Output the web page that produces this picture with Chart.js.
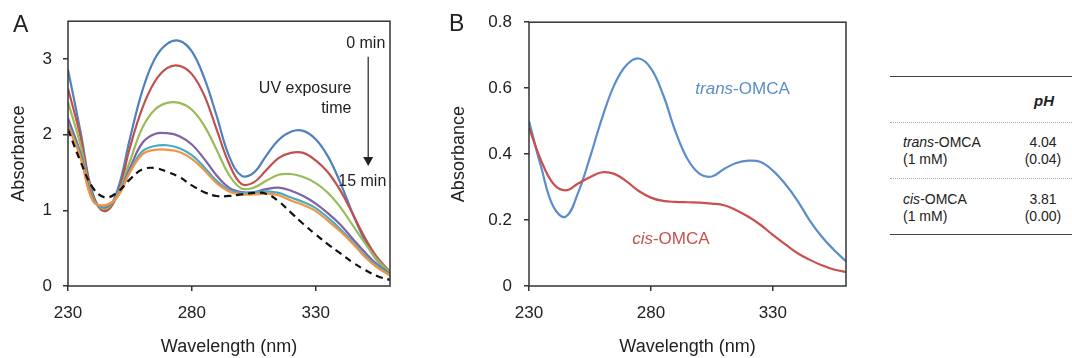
<!DOCTYPE html>
<html>
<head>
<meta charset="utf-8">
<script src="https://cdn.jsdelivr.net/npm/chart.js@4/dist/chart.umd.min.js"></script>
<style>
  body { margin: 0; background: #fff; width: 1072px; height: 358px; overflow: hidden; position: relative;
         font-family: "Liberation Sans", Arial, sans-serif; color: #222; }
  canvas { position: absolute; top: 0; }
  #chartA { left: 0; }
  #chartB { left: 440px; }
  .letter { position: absolute; font-size: 23px; line-height: 24px; }
  .rule { position: absolute; left: 890px; width: 182px; }
  .solid { height: 0; border-top: 1.5px solid #444; }
  .dotted { height: 0; border-top: 1px dotted #aaa; }
  .cell { position: absolute; font-size: 14px; line-height: 17px; }
  .num { text-align: center; width: 60px; left: 1013px; }
</style>
</head>
<body>
<canvas id="chartA" width="400" height="358"></canvas>
<canvas id="chartB" width="420" height="358"></canvas>

<div class="letter" style="left:13px; top:12px;">A</div>
<div class="letter" style="left:449px; top:11px;">B</div>

<!-- tabelka pH -->
<div class="rule solid" style="top:76px;"></div>
<div class="cell" style="left:1014px; width:60px; text-align:center; top:92px; font-weight:bold; font-style:italic; font-size:15px;">pH</div>
<div class="rule dotted" style="top:122px;"></div>
<div class="cell" style="left:903px; top:134px;"><i>trans</i>-OMCA<br>(1 mM)</div>
<div class="cell num" style="top:134px;">4.04<br>(0.04)</div>
<div class="rule dotted" style="top:178px;"></div>
<div class="cell" style="left:903px; top:191px;"><i>cis</i>-OMCA<br>(1 mM)</div>
<div class="cell num" style="top:191px;">3.81<br>(0.00)</div>
<div class="rule solid" style="top:234px;"></div>

<script>
// vlnové délky (nm)
const wavelengths = [230, 235, 240, 245, 250, 255, 260, 265, 270, 275, 280, 285, 290, 295,
                     300, 305, 310, 315, 320, 325, 330, 335, 340, 345, 350, 355, 360];

// panel A - spektra během UV expozice (0 min -> 15 min)
const uvBlue   = [2.86, 2.05, 1.22, 0.99, 1.27, 1.95, 2.58, 3.00, 3.20, 3.24, 3.10, 2.75, 2.25, 1.72,
                  1.46, 1.50, 1.72, 1.93, 2.04, 2.05, 1.94, 1.71, 1.36, 0.95, 0.59, 0.33, 0.18];
const uvRed    = [2.61, 1.98, 1.19, 0.99, 1.21, 1.83, 2.35, 2.70, 2.88, 2.91, 2.80, 2.52, 2.07, 1.62,
                  1.35, 1.37, 1.53, 1.69, 1.76, 1.76, 1.66, 1.50, 1.26, 0.95, 0.63, 0.37, 0.19];
const uvGreen  = [2.43, 1.87, 1.17, 1.02, 1.21, 1.65, 2.09, 2.33, 2.42, 2.42, 2.33, 2.12, 1.80, 1.47,
                  1.29, 1.30, 1.39, 1.47, 1.48, 1.44, 1.36, 1.23, 1.04, 0.80, 0.56, 0.34, 0.18];
const uvPurple = [2.22, 1.76, 1.15, 1.04, 1.19, 1.56, 1.89, 2.01, 2.02, 1.98, 1.87, 1.68, 1.46, 1.30,
                  1.24, 1.24, 1.28, 1.30, 1.26, 1.19, 1.09, 0.96, 0.81, 0.62, 0.44, 0.28, 0.16];
const uvCyan   = [2.15, 1.72, 1.13, 1.05, 1.19, 1.52, 1.78, 1.85, 1.86, 1.82, 1.73, 1.57, 1.39, 1.27,
                  1.23, 1.24, 1.25, 1.23, 1.17, 1.11, 1.03, 0.90, 0.75, 0.58, 0.40, 0.26, 0.15];
const uvOrange = [2.12, 1.70, 1.13, 1.07, 1.18, 1.50, 1.74, 1.80, 1.80, 1.77, 1.68, 1.53, 1.36, 1.25,
                  1.21, 1.21, 1.22, 1.20, 1.13, 1.07, 0.99, 0.86, 0.72, 0.56, 0.38, 0.24, 0.14];
const uvDashed = [2.07, 1.65, 1.30, 1.17, 1.24, 1.41, 1.54, 1.56, 1.51, 1.44, 1.33, 1.24, 1.19, 1.19,
                  1.21, 1.23, 1.22, 1.12, 0.97, 0.82, 0.68, 0.55, 0.43, 0.31, 0.21, 0.13, 0.08];

// panel B - trans / cis OMCA
const transOmca = [0.50, 0.36, 0.24, 0.21, 0.28, 0.39, 0.51, 0.61, 0.67, 0.69, 0.66, 0.58, 0.47, 0.385,
                   0.34, 0.332, 0.355, 0.373, 0.38, 0.376, 0.35, 0.31, 0.26, 0.20, 0.15, 0.11, 0.075];
const cisOmca   = [0.48, 0.38, 0.31, 0.29, 0.31, 0.33, 0.345, 0.34, 0.317, 0.288, 0.268, 0.258, 0.255, 0.254,
                   0.253, 0.25, 0.245, 0.23, 0.21, 0.185, 0.155, 0.127, 0.10, 0.08, 0.063, 0.05, 0.043];

const xTicks = [230, 280, 330];
const yTicksA = [0, 1, 2, 3];

const FONT = '"Liberation Sans", Arial, sans-serif';
const INK = "#222";

function points(values) {
  return wavelengths.map((w, i) => ({ x: w, y: values[i] }));
}

function line(values, color, dash) {
  return {
    data: points(values),
    borderColor: color,
    borderWidth: 2.2,
    borderDash: dash || [],
    pointRadius: 0,
    fill: false,
    tension: 0.4,
  };
}

// rámeček kolem plochy grafu
const frame = {
  id: "frame",
  afterDatasetsDraw(chart) {
    const a = chart.chartArea;
    const ctx = chart.ctx;
    ctx.save();
    ctx.strokeStyle = "#333";
    ctx.lineWidth = 1.5;
    ctx.strokeRect(a.left, a.top, a.right - a.left, a.bottom - a.top);
    ctx.restore();
  },
};

function axes(yMin, yMax, yTickFn, yPad, yLabelFmt) {
  return {
    x: {
      type: "linear",
      min: 230,
      max: 360,
      afterBuildTicks: (s) => { s.ticks = xTicks.map((v) => ({ value: v })); },
      afterFit: (s) => { s.height = 72; },
      border: { display: false },
      grid: { drawOnChartArea: false, drawTicks: true, tickLength: 5, color: "#333", lineWidth: 1.5 },
      ticks: { color: INK, font: { family: FONT, size: 17 }, padding: 12, maxRotation: 0 },
      title: { display: true, text: "Wavelength (nm)", color: INK, font: { family: FONT, size: 18 }, padding: 0 },
    },
    y: {
      min: yMin,
      max: yMax,
      afterBuildTicks: yTickFn,
      afterFit: (s) => { s.width = yPad; },
      border: { display: false },
      grid: { drawOnChartArea: false, drawTicks: true, tickLength: 5, color: "#333", lineWidth: 1.5 },
      ticks: { color: INK, font: { family: FONT, size: 17 }, padding: 11, callback: yLabelFmt },
      title: { display: true, text: "Absorbance", color: INK, font: { family: FONT, size: 18 }, padding: { top: 8, bottom: 0 } },
    },
  };
}

// popisky a šipka v panelu A
const annotateA = {
  id: "annotateA",
  afterDatasetsDraw(chart) {
    const { ctx, scales: { x, y } } = chart;
    ctx.save();
    ctx.font = "16px " + FONT;
    ctx.fillStyle = INK;
    ctx.textAlign = "right";
    ctx.textBaseline = "middle";
    ctx.fillText("0 min", x.getPixelForValue(358.1), y.getPixelForValue(3.2));
    ctx.fillText("UV exposure", x.getPixelForValue(344.4), y.getPixelForValue(2.61));
    ctx.fillText("time", x.getPixelForValue(344.4), y.getPixelForValue(2.35));
    ctx.fillText("15 min", x.getPixelForValue(358.5), y.getPixelForValue(1.376));

    const ax = x.getPixelForValue(351.2);
    const tip = y.getPixelForValue(1.585);
    ctx.strokeStyle = INK;
    ctx.lineWidth = 1.2;
    ctx.beginPath();
    ctx.moveTo(ax, y.getPixelForValue(3.03));
    ctx.lineTo(ax, tip - 8);
    ctx.stroke();
    ctx.beginPath();
    ctx.moveTo(ax - 5, tip - 9);
    ctx.lineTo(ax + 5, tip - 9);
    ctx.lineTo(ax, tip);
    ctx.closePath();
    ctx.fill();
    ctx.restore();
  },
};

// popisky křivek v panelu B
function mixedLabel(ctx, px, py, italicPart, rest, color) {
  ctx.fillStyle = color;
  ctx.font = "italic 17px " + FONT;
  ctx.fillText(italicPart, px, py);
  const w = ctx.measureText(italicPart).width;
  ctx.font = "17px " + FONT;
  ctx.fillText(rest, px + w, py);
}

const annotateB = {
  id: "annotateB",
  afterDatasetsDraw(chart) {
    const { ctx, scales: { x, y } } = chart;
    ctx.save();
    ctx.textAlign = "left";
    ctx.textBaseline = "middle";
    mixedLabel(ctx, x.getPixelForValue(298.2), y.getPixelForValue(0.596), "trans", "-OMCA", "#5b8dcc");
    mixedLabel(ctx, x.getPixelForValue(272.3), y.getPixelForValue(0.143), "cis", "-OMCA", "#c9504c");
    ctx.restore();
  },
};

const common = {
  responsive: false,
  animation: false,
  devicePixelRatio: 1,
  plugins: { legend: { display: false }, tooltip: { enabled: false } },
};

new Chart(document.getElementById("chartA"), {
  type: "line",
  data: {
    datasets: [
      line(uvDashed, "#111", [7, 5]),
      line(uvOrange, "#f39441"),
      line(uvCyan, "#4aabc6"),
      line(uvPurple, "#7f63a2"),
      line(uvGreen, "#9bbb59"),
      line(uvRed, "#c0504d"),
      line(uvBlue, "#4f81bd"),
    ],
  },
  options: Object.assign({}, common, {
    layout: { padding: { left: 0, right: 10, top: 19, bottom: 0 } },
    scales: axes(0, 3.5, (s) => { s.ticks = yTicksA.map((v) => ({ value: v })); }, 68, (v) => String(v)),
  }),
  plugins: [frame, annotateA],
});

new Chart(document.getElementById("chartB"), {
  type: "line",
  data: {
    datasets: [
      line(cisOmca, "#c9504c"),
      line(transOmca, "#5b8dcc"),
    ],
  },
  options: Object.assign({}, common, {
    layout: { padding: { left: 0, right: 14, top: 19, bottom: 0 } },
    scales: (() => {
      const sc = axes(0, 0.8, null, 89, (v) => (v === 0 ? "0" : v.toFixed(1)));
      sc.y.ticks.stepSize = 0.2;
      sc.y.ticks.padding = 12;
      delete sc.y.afterBuildTicks;
      return sc;
    })(),
  }),
  plugins: [frame, annotateB],
});
</script>
</body>
</html>
